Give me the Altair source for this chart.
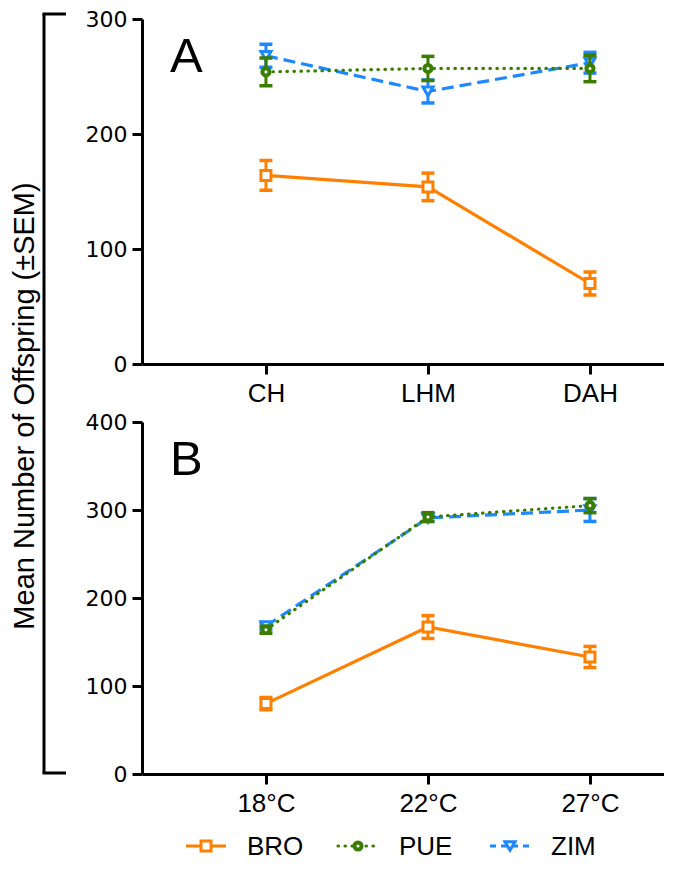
import altair as alt
import pandas as pd

series = ["BRO", "PUE", "ZIM"]
series_colors = ["#FF8000", "#3A7D00", "#1E88FF"]
series_shapes = ["square", "circle", "triangle-down"]

cats_A = ["CH", "LHM", "DAH"]
bro_A = [164, 154, 70]
bro_A_sem = [13, 12, 10]
pue_A = [254, 257, 257]
pue_A_sem = [12, 10.5, 11.5]
zim_A = [268, 237, 262]
zim_A_sem = [10, 10, 9]

cats_B = ["18°C", "22°C", "27°C"]
bro_B = [80, 167, 133]
bro_B_sem = [7, 13, 12]
pue_B = [164, 292, 305]
pue_B_sem = [4, 5, 8]
zim_B = [168, 291, 300]
zim_B_sem = [4, 4, 13]

y_label = "Mean Number of Offspring (±SEM)"
panel_letters = ["A", "B"]

styles = {
    "BRO": dict(dash=None, cap="butt", size=100, sw=3),
    "PUE": dict(dash=[0.5, 6.5], cap="round", size=50, sw=4),
    "ZIM": dict(dash=[12, 6], cap="butt", size=100, sw=3),
}
color_of = dict(zip(series, series_colors))
shape_of = dict(zip(series, series_shapes))

W = 522
H_A, H_B = 345, 352


def make_df(cats, means, sems):
    rows = []
    for s, m, e in zip(series, means, sems):
        for i, c in enumerate(cats):
            rows.append(dict(series=s, pos=i + 1, cat=c, mean=m[i],
                             lo=m[i] - e[i], hi=m[i] + e[i]))
    return pd.DataFrame(rows)


def axis_common():
    return dict(title=None, grid=False, tickSize=10, tickWidth=3, domainWidth=3,
                labelColor="black", tickColor="black", domainColor="black")


def panel(df, cats, ymax, letter, height, extra=None):
    label_expr = "".join(f"datum.value == {i + 1} ? '{c}' : " for i, c in enumerate(cats)) + "''"
    xs = alt.Scale(domain=[0.235, 3.457], nice=False, zero=False)
    ys = alt.Scale(domain=[0, ymax], nice=False)
    xax = alt.Axis(values=[1, 2, 3], labelExpr=label_expr, labelFont="Liberation Sans",
                   labelFontSize=26, labelPadding=6, labelFlush=False, **axis_common())
    yax = alt.Axis(values=list(range(0, ymax + 1, 100)), labelFont="DejaVu Sans",
                   labelFontSize=22, labelPadding=5, **axis_common())

    def X():
        return alt.X("pos:Q", scale=xs, axis=xax)

    def Y(f):
        return alt.Y(f + ":Q", scale=ys, axis=yax)

    layers = []
    for s in ["BRO", "ZIM", "PUE"]:
        st = styles[s]
        c = color_of[s]
        base = alt.Chart(df).transform_filter(alt.datum.series == s)
        lkw = dict(color=c, strokeWidth=3.2, strokeCap=st["cap"])
        if st["dash"]:
            lkw["strokeDash"] = st["dash"]
        layers.append(base.mark_line(**lkw).encode(x=X(), y=Y("mean")))
        layers.append(base.mark_rule(color=c, strokeWidth=3).encode(x=X(), y=Y("lo"), y2="hi:Q"))
        for f in ["lo", "hi"]:
            layers.append(base.mark_tick(orient="horizontal", color=c, size=13, thickness=3.5,
                                         opacity=1).encode(x=X(), y=Y(f)))
        layers.append(base.mark_point(shape=shape_of[s], fill="white", fillOpacity=1, stroke=c,
                                      strokeWidth=st["sw"], size=st["size"], opacity=1)
                      .encode(x=X(), y=Y("mean")))
    one = pd.DataFrame({"t": [letter]})
    layers.append(alt.Chart(one).mark_text(align="left", baseline="alphabetic", fontSize=49,
                                           font="Liberation Sans", color="black")
                  .encode(x=alt.value(28), y=alt.value(53), text="t:N"))
    if extra:
        layers.extend(extra)
    return alt.layer(*layers).properties(width=W, height=height)


one_row = pd.DataFrame({"t": [y_label]})
bracket = [
    alt.Chart(one_row).mark_rule(color="black", strokeWidth=3)
    .encode(x=alt.value(-98), y=alt.value(-5), y2=alt.value(754)),
    alt.Chart(one_row).mark_rule(color="black", strokeWidth=3)
    .encode(x=alt.value(-99.5), x2=alt.value(-76), y=alt.value(-5)),
    alt.Chart(one_row).mark_rule(color="black", strokeWidth=3)
    .encode(x=alt.value(-99.5), x2=alt.value(-76), y=alt.value(754)),
    alt.Chart(one_row).mark_text(angle=270, fontSize=29, font="Liberation Sans", color="black",
                                 baseline="middle", align="center")
    .encode(x=alt.value(-117), y=alt.value(387), text="t:N"),
]

chart_A = panel(make_df(cats_A, [bro_A, pue_A, zim_A], [bro_A_sem, pue_A_sem, zim_A_sem]),
                cats_A, 300, panel_letters[0], H_A, extra=bracket)
chart_B = panel(make_df(cats_B, [bro_B, pue_B, zim_B], [bro_B_sem, pue_B_sem, zim_B_sem]),
                cats_B, 400, panel_letters[1], H_B)

# legend
leg_df = pd.DataFrame({"series": series, "lp": list(range(len(series)))})
lx = alt.X("lp:Q", scale=alt.Scale(domain=[0, 2], range=[64, 368]), axis=None)
leg_layers = []
for s in series:
    st = styles[s]
    c = color_of[s]
    base = alt.Chart(leg_df).transform_filter(alt.datum.series == s)
    rkw = dict(color=c, strokeWidth=3.2, strokeCap=st["cap"], xOffset=-20, x2Offset=20)
    if st["dash"]:
        rkw["strokeDash"] = [6, 5] if s == "ZIM" else st["dash"]
    leg_layers.append(base.mark_rule(**rkw).encode(x=lx, x2="lp:Q", y=alt.value(14)))
    leg_layers.append(base.mark_point(shape=shape_of[s], fill="white", fillOpacity=1, stroke=c,
                                      strokeWidth=st["sw"], size=st["size"], opacity=1)
                      .encode(x=lx, y=alt.value(14)))
leg_layers.append(alt.Chart(leg_df).mark_text(align="left", baseline="middle", dx=41, fontSize=26,
                                              font="Liberation Sans", color="black")
                  .encode(x=lx, y=alt.value(15), text="series:N"))
chart_L = alt.layer(*leg_layers).properties(width=W, height=26)

chart = alt.vconcat(chart_A, chart_B, chart_L, spacing=58, bounds="flush",
                    padding={"left": 3, "top": 0, "right": 0, "bottom": 0},
                    background="white").configure_view(stroke=None)

chart.save("out.html", embed_options={"renderer": "svg", "actions": False})
